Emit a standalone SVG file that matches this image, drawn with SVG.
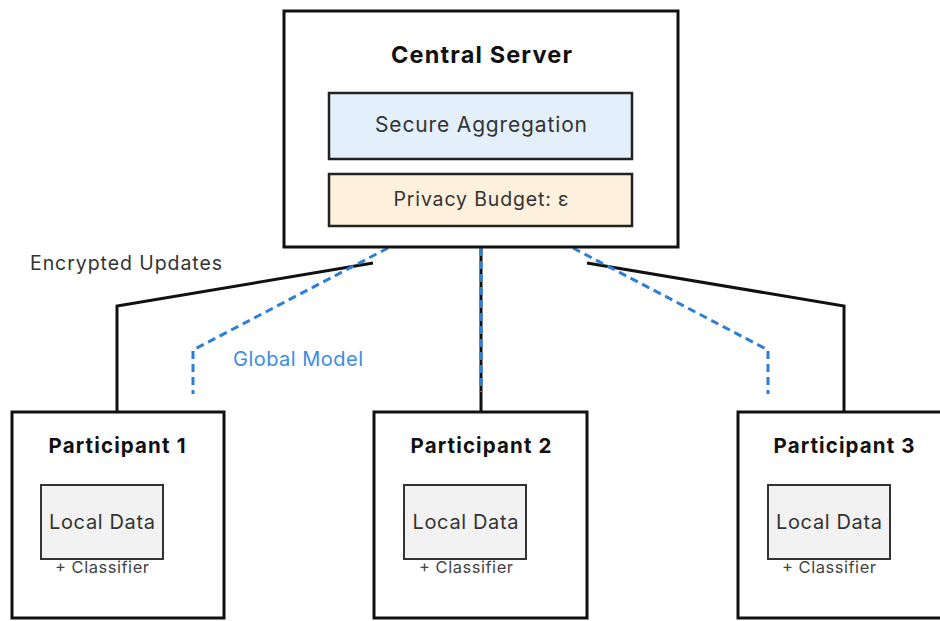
<svg xmlns="http://www.w3.org/2000/svg" width="940" height="621" viewBox="0 0 940 621">
<style>
text{font-family:Inter,"Noto Sans","Liberation Sans",sans-serif;}
.box{fill:#fff;stroke:#111;stroke-width:3;}
.title{font-weight:700;fill:#111;text-anchor:middle;}
.local{fill:#f2f2f2;stroke:#333;stroke-width:2;}
.lt{font-size:20px;fill:#333;text-anchor:middle;}
.cl{font-size:16.5px;fill:#444;text-anchor:middle;}
.enc{fill:none;stroke:#111;stroke-width:3;}
.glob{fill:none;stroke:#2d7fd6;stroke-width:3;stroke-dasharray:8 5;}
</style>
<rect width="940" height="621" fill="#fff"/>
<g id="connectors">
<path class="enc" d="M373 263 L117 306 L117 411"/>
<path class="enc" d="M481 248 L481 411"/>
<path class="enc" d="M587 263 L844 306 L844 411"/>
<path class="glob" d="M388 248 L193 350 L193 394"/>
<path class="glob" d="M481 248 L481 392"/>
<path class="glob" d="M573 248 L768 350 L768 394"/>
<text x="30" y="270" font-size="19.5" fill="#333" textLength="192" lengthAdjust="spacing">Encrypted Updates</text>
<text x="233" y="366" font-size="20" fill="#3a8ee0" textLength="130" lengthAdjust="spacing">Global Model</text>
</g>
<g id="central-server">
<rect class="box" x="284" y="11" width="394" height="236"/>
<text class="title" x="481.5" y="63" font-size="23.5" textLength="181" lengthAdjust="spacing">Central Server</text>
<g id="secure-aggregation">
<rect x="329" y="93" width="303" height="66" fill="#e3f0fb" stroke="#222" stroke-width="2.5"/>
<text x="481" y="132" font-size="21" fill="#333" text-anchor="middle" textLength="212" lengthAdjust="spacing">Secure Aggregation</text>
</g>
<g id="privacy-budget">
<rect x="329" y="174" width="303" height="52" fill="#fdf0dc" stroke="#222" stroke-width="2.5"/>
<text x="481" y="206" font-size="19.5" fill="#333" text-anchor="middle" textLength="175" lengthAdjust="spacing">Privacy Budget: ε</text>
</g>
</g>
<g id="participant-1">
<rect class="box" x="12" y="412" width="212" height="206"/>
<text class="title" x="117" y="453" font-size="20.5" textLength="137" lengthAdjust="spacing">Participant 1</text>
<rect class="local" x="41" y="485" width="122" height="74"/>
<text class="lt" x="102" y="529" textLength="106" lengthAdjust="spacing">Local Data</text>
<text class="cl" x="102" y="573" textLength="94" lengthAdjust="spacing">+ Classifier</text>
</g>
<g id="participant-2">
<rect class="box" x="374" y="412" width="213" height="206"/>
<text class="title" x="481" y="453" font-size="20.5" textLength="141" lengthAdjust="spacing">Participant 2</text>
<rect class="local" x="404" y="485" width="122" height="74"/>
<text class="lt" x="465.5" y="529" textLength="106" lengthAdjust="spacing">Local Data</text>
<text class="cl" x="466" y="573" textLength="94" lengthAdjust="spacing">+ Classifier</text>
</g>
<g id="participant-3">
<rect class="box" x="738" y="412" width="212" height="206"/>
<text class="title" x="844" y="453" font-size="20.5" textLength="141" lengthAdjust="spacing">Participant 3</text>
<rect class="local" x="768" y="485" width="122" height="74"/>
<text class="lt" x="829" y="529" textLength="106" lengthAdjust="spacing">Local Data</text>
<text class="cl" x="829" y="573" textLength="94" lengthAdjust="spacing">+ Classifier</text>
</g>
</svg>
